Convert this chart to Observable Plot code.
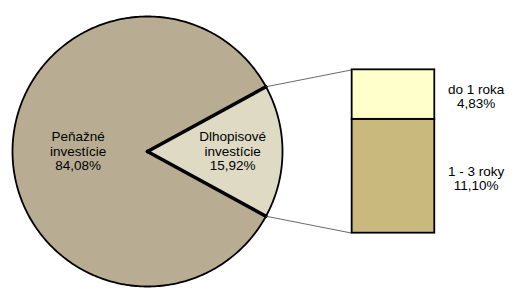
<!DOCTYPE html>
<html>
<head>
<meta charset="utf-8">
<script src="https://cdn.jsdelivr.net/npm/d3@7"></script>
<script src="https://cdn.jsdelivr.net/npm/@observablehq/plot@0.6"></script>
<style>
  html, body { margin: 0; padding: 0; background: #fff; }
  #chart svg { display: block; }
</style>
</head>
<body>
<div id="chart"></div>
<script>
// ---- data ----
const sliceNames = ["Peňažné\ninvestície", "Dlhopisové\ninvestície"];
const sliceValues = [84.08, 15.92];
const sliceColors = ["#B8AD93", "#DEDAC4"];

const segNames = ["1 - 3 roky", "do 1 roka"];
const segValues = [11.10, 4.83];
const segColors = ["#C9B97C", "#FFFFCC"];

// ---- layout (pixels / unit-radius space) ----
const W = 517, H = 293;
const CX = 147, CY = 151, R = 135;       // pie centre & radius in px
const barX0 = 1.516, barX1 = 2.128;      // bar edges in radius units
const barHalf = 0.605;                   // half bar height in radius units
const barLabelX = 2.434;
const labelRadius = [0.51, 0.635];
const labelDy = [3, 6.5];
const FS = 13.5;

const fmt = v => v.toFixed(2).replace(".", ",") + "%";

// ---- pie geometry from values ----
const total = d3.sum(sliceValues);
const aSmall = 2 * Math.PI * sliceValues[1] / total;
const sliceAngles = [
  [aSmall / 2, 2 * Math.PI - aSmall / 2],
  [-aSmall / 2, aSmall / 2]
];
const slicePts = sliceAngles.map(([a0, a1], i) => {
  const n = Math.max(8, Math.ceil((a1 - a0) / (Math.PI / 180)));
  const pts = [{x: 0, y: 0, s: i}];
  for (let k = 0; k <= n; k++) {
    const a = a0 + (a1 - a0) * k / n;
    pts.push({x: Math.cos(a), y: Math.sin(a), s: i});
  }
  pts.push({x: 0, y: 0, s: i});
  return pts;
});
const circle = d3.range(0, 361).map(d => ({x: Math.cos(d * Math.PI / 180), y: Math.sin(d * Math.PI / 180)}));
const edgeTop = {x: Math.cos(aSmall / 2), y: Math.sin(aSmall / 2)};
const edgeBot = {x: Math.cos(-aSmall / 2), y: Math.sin(-aSmall / 2)};

const pieLabels = sliceValues.map((v, i) => {
  const [a0, a1] = sliceAngles[i];
  const m = (a0 + a1) / 2;
  return {x: labelRadius[i] * Math.cos(m), y: labelRadius[i] * Math.sin(m),
          text: sliceNames[i] + "\n" + fmt(v), dy: labelDy[i]};
});

// ---- bar geometry from values ----
const segTotal = d3.sum(segValues);
const k = (2 * barHalf) / segTotal;
let cum = 0;
const segs = segValues.map((v, i) => {
  const y1 = -barHalf + cum * k;
  cum += v;
  const y2 = -barHalf + cum * k;
  return {y1, y2, fill: segColors[i], text: segNames[i] + "\n" + fmt(v)};
});
const barTop = segs[segs.length - 1].y2, barBot = segs[0].y1;

const connectors = [
  {x1: edgeTop.x, y1: edgeTop.y, x2: barX0, y2: barTop},
  {x1: edgeBot.x, y1: edgeBot.y, x2: barX0, y2: barBot}
];

const chart = Plot.plot({
  width: W, height: H,
  margin: 0,
  x: {domain: [-CX / R, (W - CX) / R], range: [0, W], axis: null},
  y: {domain: [-(H - CY) / R, CY / R], range: [H, 0], axis: null},
  style: {fontFamily: "'Liberation Sans', Arial, sans-serif", fontSize: FS + "px", background: "#fff"},
  marks: [
    ...slicePts.map((pts, i) => Plot.line(pts, {x: "x", y: "y", fill: sliceColors[i], stroke: "none"})),
    Plot.line(circle, {x: "x", y: "y", stroke: "#000", strokeWidth: 1.8}),
    Plot.link([edgeTop, edgeBot], {x1: 0, y1: 0, x2: "x", y2: "y", stroke: "#000", strokeWidth: 3.6, strokeLinecap: "round"}),
    Plot.link(connectors, {x1: "x1", y1: "y1", x2: "x2", y2: "y2", stroke: "#444", strokeWidth: 0.8}),
    Plot.rect(segs, {x1: barX0, x2: barX1, y1: "y1", y2: "y2", fill: "fill", stroke: "#000", strokeWidth: 1.8}),
    Plot.text(pieLabels, {x: "x", y: "y", text: "text", dy: "dy", fontSize: FS, lineHeight: 1.07, fill: "#000", textAnchor: "middle", lineAnchor: "middle"}),
    Plot.text(segs, {x: barLabelX, y: d => (d.y1 + d.y2) / 2, text: "text", dy: 2, fontSize: FS, lineHeight: 1.07, fill: "#000", textAnchor: "middle", lineAnchor: "middle"})
  ]
});
document.getElementById("chart").appendChild(chart);
</script>
</body>
</html>
